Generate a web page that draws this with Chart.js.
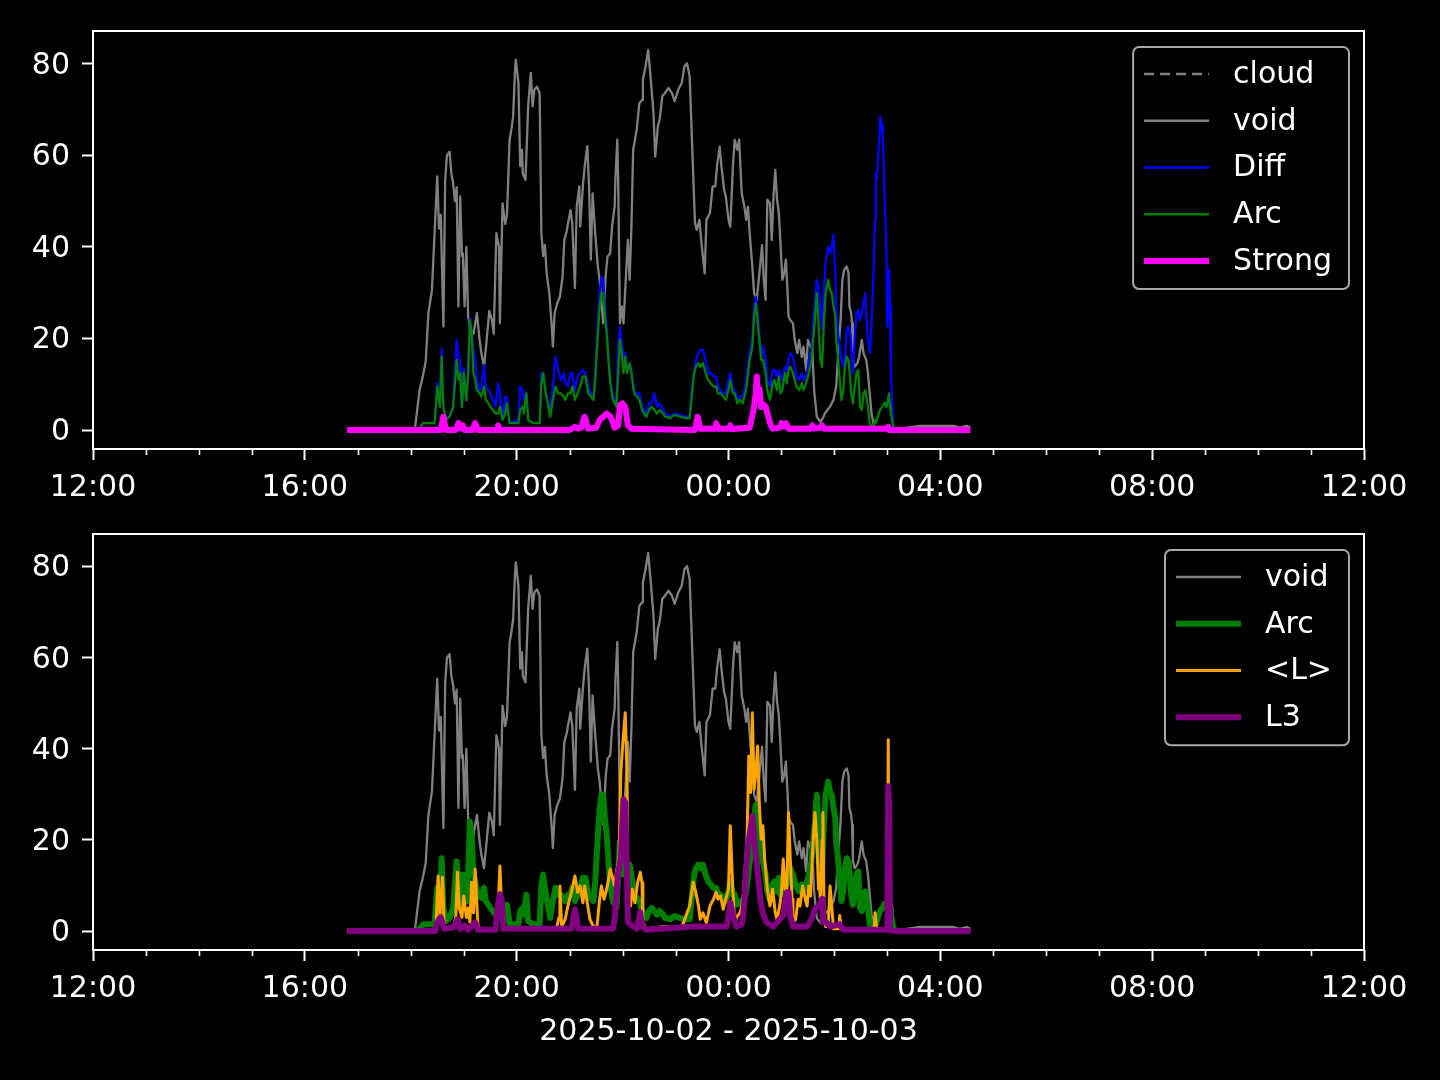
<!DOCTYPE html>
<html>
<head>
<meta charset="utf-8">
<title>void / Diff / Arc / Strong</title>
<script src="https://cdn.jsdelivr.net/npm/chart.js@4.4.1/dist/chart.umd.min.js"></script>
<style>
  html, body { margin:0; padding:0; background:#000; }
  #page { position:relative; width:1440px; height:1080px; background:#000; overflow:hidden; }
  #top { position:absolute; left:0; top:0; }
  #bottom { position:absolute; left:0; top:500px; }
</style>
</head>
<body>
<div id="page">
  <canvas id="top" width="1440" height="500"></canvas>
  <canvas id="bottom" width="1440" height="580"></canvas>
</div>
<script>
// ---------------- data (clock times, 2025-10-02 12:00 -> 2025-10-03 12:00) ----------------
const xTickLabels = ['12:00', '16:00', '20:00', '00:00', '04:00', '08:00', '12:00'];
const yTicks = [0, 20, 40, 60, 80];
const xLabel = '2025-10-02 - 2025-10-03';

const cloudTimes = [];
const cloudValues = [];

const voidTimes = [
  '16:48','18:04','18:05','18:10','18:14','18:17','18:20','18:24','18:27','18:30',
  '18:32','18:34','18:37','18:39','18:41','18:44','18:46','18:48','18:50','18:52',
  '18:54','18:56','18:58','18:59','19:01','19:03','19:05','19:08','19:11','19:15',
  '19:18','19:20','19:23','19:26','19:29','19:32','19:34','19:37','19:40','19:41',
  '19:44','19:47','19:49','19:52','19:54','19:56','19:58','19:59','20:02','20:04',
  '20:06','20:07','20:10','20:13','20:16','20:18','20:20','20:23','20:26','20:28',
  '20:30','20:32','20:34','20:37','20:40','20:41','20:43','20:46','20:49','20:52',
  '20:54','20:57','20:58','21:01','21:03','21:06','21:08','21:11','21:12','21:15',
  '21:17','21:20','21:22','21:24','21:26','21:29','21:32','21:34','21:38','21:41',
  '21:43','21:46','21:48','21:51','21:52','21:54','21:55','21:57','21:59','22:01',
  '22:04','22:06','22:08','22:10','22:12','22:14','22:16','22:19','22:22','22:23',
  '22:26','22:29','22:32','22:35','22:37','22:40','22:42','22:45','22:48','22:52',
  '22:56','22:59','23:03','23:07','23:10','23:13','23:16','23:19','23:22','23:24',
  '23:27','23:29','23:33','23:35','23:39','23:42','23:45','23:47','23:50','23:52',
  '23:55','23:57','00:00','00:02','00:05','00:07','00:10','00:12','00:15','00:18',
  '00:20','00:22','00:24','00:27','00:29','00:32','00:35','00:38','00:40','00:42',
  '00:44','00:47','00:49','00:51','00:53','00:55','00:57','00:59','01:01','01:03',
  '01:05','01:07','01:08','01:10','01:13','01:15','01:18','01:20','01:23','01:25',
  '01:28','01:30','01:33','01:35','01:37','01:40','01:44','01:47','01:49','01:55',
  '01:59','02:02','02:04','02:07','02:09','02:11','02:14','02:16','02:17','02:19',
  '02:20','02:21','02:23','02:26','02:28','02:31','02:33','02:36','02:38','02:40',
  '02:42','02:45','02:52','03:18','03:37','04:15','04:22','04:30','04:34'
];
const voidValues = [
  0, 0, 0.7, 8.7, 12, 15, 25.5, 30.6, 43, 55.4,
  44, 47, 22.6, 54.6, 60, 60.8, 56, 54, 50, 53,
  27, 51, 38, 38.6, 27, 40, 24.8, 22, 21, 25.5,
  19.7, 16.8, 13.8, 19.7, 26, 24, 21, 43, 40, 23.3,
  49.5, 45, 47, 63.4, 65.6, 68.5, 78, 80.9, 75.8, 57.6,
  61.2, 56, 54.6, 70.7, 78, 70.7, 74.3, 75, 73.6, 43,
  38, 40.4, 34.2, 29.9, 21.9, 18.2, 25.5, 27.7, 29.1, 33.5,
  41.5, 43.7, 45, 48, 45, 31, 48.8, 53.2, 44.4, 53.2,
  57.6, 62, 53.2, 37.2, 51.7, 43, 35.7, 32.8, 23.3, 34.2,
  37.9, 38.6, 44.4, 48.8, 55.4, 63.4, 54.6, 23.3, 27, 23.3,
  34.2, 41.5, 32.8, 44.4, 61.2, 63.4, 65.6, 71.4, 72.1, 76.5,
  79.4, 83, 76.5, 69.2, 59.7, 66.4, 67.8, 72.9, 73.6, 74.7,
  73.6, 71.8, 74.3, 75.8, 79.4, 80.1, 77.2, 61.2, 45.2, 43.7,
  45.9, 41.5, 34.2, 45.9, 47.4, 53.2, 53.2, 57.6, 61.9, 57.6,
  52.5, 51, 45.9, 44.4, 57.6, 63.4, 61.2, 63.4, 51.7, 48.8,
  45.9, 48.8, 43, 35.7, 29.9, 28.4, 34.2, 40.4, 32.8, 28.4,
  50.3, 49.5, 41.5, 51, 56.8, 50.3, 47.4, 40.4, 32.8, 34.2,
  37.2, 29.9, 24.8, 24, 23.3, 19.7, 16.8, 19.7, 16, 18.2,
  13.1, 19.7, 18.2, 17.5, 8.7, 2.9, 1.8, 2.6, 3.6, 5.1,
  6.6, 9.5, 16, 24, 32.8, 35, 35.7, 34.2, 27, 25.5,
  23.3, 15.3, 13.8, 14.6, 16, 19.7, 16.8, 15.3, 12.4, 8,
  3.6, 0.7, 0.4, 0.4, 0.9, 0.9, 0.5, 0.9, 0.5
];

// Arc and Diff share the same sample times
const arcTimes = [
  '16:48','18:05','18:10','18:14','18:27','18:30','18:33','18:35','18:37','18:40',
  '18:44','18:48','18:52','18:54','18:56','18:58','19:00','19:03','19:05','19:07',
  '19:09','19:11','19:13','19:15','19:18','19:20','19:23','19:25','19:28','19:30',
  '19:33','19:36','19:39','19:41','19:44','19:47','19:49','19:52','20:02','20:04',
  '20:07','20:08','20:11','20:13','20:19','20:26','20:28','20:30','20:33','20:36',
  '20:38','20:41','20:44','20:47','20:50','20:53','20:55','20:58','21:01','21:03',
  '21:06','21:09','21:12','21:15','21:18','21:21','21:24','21:27','21:29','21:32',
  '21:34','21:36','21:38','21:40','21:42','21:44','21:46','21:49','21:53','21:55',
  '21:57','21:59','22:01','22:03','22:05','22:08','22:10','22:13','22:16','22:19',
  '22:22','22:24','22:27','22:30','22:33','22:36','22:39','22:42','22:46','22:48',
  '22:54','22:59','23:05','23:11','23:16','23:18','23:21','23:23','23:26','23:28',
  '23:31','23:34','23:37','23:40','23:43','23:46','23:48','23:51','23:54','23:57',
  '00:00','00:02','00:05','00:07','00:10','00:13','00:16','00:19','00:21','00:24',
  '00:27','00:29','00:31','00:33','00:35','00:37','00:39','00:42','00:44','00:47',
  '00:50','00:52','00:55','00:57','00:59','01:01','01:04','01:06','01:08','01:10',
  '01:13','01:15','01:17','01:20','01:23','01:25','01:29','01:31','01:34','01:37',
  '01:40','01:42','01:44','01:46','01:48','01:50','01:53','01:55','01:57','01:59',
  '02:01','02:02','02:04','02:06','02:08','02:10','02:12','02:14','02:16','02:18',
  '02:19','02:21','02:23','02:25','02:27','02:29','02:31','02:33','02:35','02:36',
  '02:38','02:40','02:42','02:44','02:46','02:47','02:48','02:51','02:52','02:54',
  '02:55','02:57','02:59','03:00','03:02','03:03','03:04','03:06','03:07','03:10',
  '04:34'
];
const arcValues = [
  0, 0, 0.5, 1.5, 1.5, 9.5, 5, 16, 5, 2.2,
  2.9, 5, 15.3, 11, 12.4, 5, 12.4, 6.5, 12.4, 24,
  21, 12.4, 11, 8.7, 8, 7.3, 9.5, 6.6, 5.8, 5.1,
  4.4, 3.6, 3.6, 5.1, 2.2, 3.6, 5.8, 1.5, 1.5, 4.4,
  5.1, 3.6, 8, 2.2, 1.5, 1.5, 10.2, 12.4, 8, 5,
  2.9, 6.6, 9.5, 8, 8, 7.3, 6.6, 8, 8, 9.5,
  6.6, 8, 9.5, 11.7, 11.7, 8, 7.3, 6.6, 10.9, 21.1,
  26.9, 29.9, 29.9, 24.8, 21.1, 15.3, 10.2, 6.6, 5.1, 12.4,
  19.7, 16.8, 12.4, 16, 12.4, 14.6, 12.4, 8, 7.3, 6.6,
  4.4, 3.6, 2.9, 4.4, 5.1, 4.4, 3.6, 4.4, 3.6, 2.9,
  2.6, 3.3, 2.9, 2.6, 2.6, 6.6, 12.4, 13.8, 14.6, 13.8,
  14.6, 12.4, 10.9, 10.2, 9.5, 9.5, 8, 8, 7.3, 6.6,
  8.7, 10.9, 8, 8, 5.8, 6.6, 5.8, 8, 10.2, 15.3,
  18.2, 24.8, 27.7, 23.3, 19.7, 15.3, 15.3, 12.4, 8.7, 6.6,
  10.2, 10.9, 8.7, 11.7, 8, 8.7, 12.4, 10.2, 13.1, 13.8,
  12.4, 10.9, 9.5, 8.7, 10.2, 8.7, 10.9, 12.4, 15.3, 21.9,
  29.9, 23.3, 15.3, 13.8, 23.3, 29.9, 32.8, 30.6, 29.9, 27,
  24.8, 19.7, 16, 10.9, 6.6, 8.7, 13.8, 16, 15.3, 10.9,
  8, 5.8, 9.5, 12.4, 13.1, 5.1, 4.4, 8, 8.7, 7.3,
  5.1, 1.5, 0.7, 0.7, 2.2, 1.5, 2.2, 4, 4.5, 5,
  5, 6, 5, 6, 8, 5, 3.6, 1.5, 0.5, 0,
  0
];
const diffValues = [
  0, 0, 0.5, 1.5, 1.5, 10.2, 5, 17.8, 5, 2.2,
  2.9, 5, 19.7, 16, 15.3, 5, 13.5, 6.5, 12.4, 24.4,
  21, 17.5, 15.3, 10.9, 8.7, 9.5, 14.2, 9.5, 8.7, 8,
  6.6, 5.1, 10.2, 8, 2.2, 7.3, 7, 1.5, 2.2, 9.5,
  8.7, 6.6, 8, 2.2, 1.5, 1.5, 12.4, 12.4, 8, 5.8,
  3.6, 9.5, 16, 13.1, 10.9, 12.4, 10.2, 9.5, 12.4, 12.4,
  8.7, 11.7, 12.4, 13.1, 12.4, 9.5, 8, 6.6, 12.4, 23.3,
  29.9, 33.5, 32.8, 27, 22.6, 16, 10.9, 7.3, 5.8, 18.2,
  22.6, 18.9, 16, 16.8, 13.8, 14.6, 13.1, 8.7, 8, 8,
  5.1, 4.4, 3.6, 5.8, 5.8, 8, 5.1, 5.8, 4.4, 3.6,
  2.9, 3.6, 3.3, 2.9, 2.9, 8, 12.4, 15.3, 16.8, 17.5,
  17.5, 15.3, 12.4, 12.4, 11.7, 11.7, 9.5, 8.7, 8, 8,
  10.9, 12.4, 8.7, 8.7, 6.6, 7.3, 7.3, 9.5, 12.4, 16.8,
  19.7, 27, 29.1, 25.5, 21.1, 16, 18.2, 15.3, 10.9, 9.5,
  13.1, 13.1, 11.7, 13.1, 11.7, 10.9, 13.8, 13.1, 15.3, 16.8,
  16, 13.8, 11.7, 10.9, 12.4, 10.9, 12.4, 15.3, 17.5, 25.5,
  32.8, 31.4, 26.9, 21.9, 30.6, 36.4, 40, 38.6, 40, 42.6,
  34.2, 27, 21.1, 18.2, 15.3, 13.8, 16, 21.9, 22.6, 21.1,
  18.2, 12.4, 19.7, 25.5, 26.2, 24, 25.5, 27.7, 29.9, 25.5,
  19.7, 16.8, 22.6, 32.8, 45.9, 56, 54.6, 64, 68.5, 66.4,
  63.4, 50, 38.6, 22.6, 35, 27, 12.4, 2.9, 0.5, 0,
  0
];

const strongTimes = [
  '16:48','18:34','18:37','18:40','18:51','18:54','18:57','18:59','19:01','19:10',
  '19:13','19:16','19:38','19:39','19:41','21:00','21:06','21:10','21:13','21:17',
  '21:21','21:30','21:34','21:38','21:42','21:46','21:48','21:51','21:55','21:57',
  '22:00','22:03','22:06','22:10','23:22','23:25','23:28','23:45','23:46','23:48',
  '00:01','00:02','00:04','00:24','00:28','00:31','00:32','00:33','00:35','00:37',
  '00:40','00:42','00:45','00:48','00:50','00:58','01:00','01:03','01:05','01:08',
  '01:33','01:35','01:37','01:44','01:46','01:48','03:00','03:01','03:02','04:34'
];
const strongValues = [
  0, 0, 2.9, 0, 0, 1.5, 0.3, 1, 0, 0,
  1.5, 0, 0, 1, 0, 0, 0.7, 0.3, 0.5, 2.9,
  0.3, 0.5, 2.2, 2.9, 3.6, 3, 2.2, 0.5, 1, 5.5,
  5.8, 5, 1, 0.3, 0, 2.9, 0.3, 0.3, 1.5, 0.3,
  0.3, 1, 0.2, 0.5, 4, 8, 11.7, 8, 9, 5,
  5.5, 5.1, 3, 1, 0.3, 0.5, 1.5, 0.8, 1.5, 0.3,
  0.3, 1, 0.3, 0.5, 1, 0.3, 0.3, 0.7, 0, 0
];

const lAvgTimes = [
  '16:48','18:28','18:29','18:31','18:33','18:36','18:38','18:41','18:48','18:51',
  '18:53','18:55','18:58','19:00','19:03','19:05','19:07','19:09','19:11','19:13',
  '19:16','19:18','19:37','19:39','19:41','19:43','19:45','20:45','20:48','20:49',
  '20:51','20:55','20:58','21:02','21:06','21:09','21:12','21:15','21:17','21:20',
  '21:23','21:27','21:31','21:34','21:36','21:39','21:42','21:46','21:48','21:51',
  '21:53','21:56','21:58','22:00','22:03','22:05','22:06','22:09','22:11','22:14',
  '22:17','22:20','22:22','22:23','22:27','22:48','23:05','23:09','23:13','23:16',
  '23:20','23:23','23:26','23:28','23:31','23:35','23:39','23:43','23:46','23:48',
  '23:51','23:54','23:57','00:00','00:02','00:05','00:07','00:10','00:13','00:15',
  '00:17','00:19','00:21','00:23','00:25','00:27','00:29','00:31','00:33','00:35',
  '00:37','00:39','00:41','00:44','00:47','00:50','00:53','00:55','00:58','01:00',
  '01:02','01:04','01:06','01:08','01:10','01:12','01:13','01:16','01:19','01:21',
  '01:24','01:27','01:29','01:31','01:33','01:36','01:38','01:40','01:42','01:43',
  '01:44','01:46','01:47','01:48','01:49','01:50','01:53','01:55','01:57','01:59',
  '02:05','02:06','02:08','02:45','02:46','02:48','03:00','03:01','03:02','03:05',
  '04:34'
];
const lAvgValues = [
  0, 0, 3, 12.1, 3, 11.8, 1, 0.5, 0.5, 3,
  12.9, 5, 3, 7.7, 3, 5, 2, 10.7, 4, 13.6,
  1.5, 0.5, 0.5, 5, 14.3, 5, 0.5, 0.5, 3, 9.9,
  1, 2.6, 5.5, 8.5, 12.1, 8.5, 9.9, 6.2, 9.9, 6.2,
  2.6, 1, 1, 7, 9.9, 7, 9.2, 13.6, 12.1, 9.9,
  12.9, 15.8, 34.8, 40.6, 47.9, 34.8, 7, 5.5, 9.2, 6.2,
  10.6, 12.9, 10.6, 1.8, 0.5, 1, 0.5, 1.8, 4, 5.5,
  10.7, 8.5, 5.5, 2.6, 4, 1.8, 5.5, 7, 8.5, 7,
  7.7, 4.8, 7, 9.2, 23.1, 8.5, 1.8, 3.3, 4, 5.5,
  8.5, 14.3, 20.2, 38.4, 30.4, 47.9, 31.1, 34.8, 40.6, 27.5,
  20.2, 23.1, 15.8, 9.2, 5.5, 9.2, 4, 2.6, 5.5, 8.5,
  15.8, 9.2, 8.5, 26, 15.8, 7, 1.8, 2.6, 7, 5.5,
  9.9, 7, 5.5, 9.9, 7.7, 20.2, 26, 20.2, 9.2, 12,
  7, 20, 26, 8, 2, 1, 1, 9.9, 5.5, 0.5,
  0.5, 3.4, 0.5, 0.5, 4, 0.5, 0.5, 42, 0.5, 0,
  0
];

const l3Times = [
  '16:48','18:28','18:30','18:34','18:38','18:50','18:53','18:56','19:01','19:05',
  '19:13','19:16','19:36','19:39','19:41','19:43','19:45','21:02','21:06','21:10',
  '21:49','21:51','21:55','21:58','22:01','22:03','22:05','22:06','22:16','22:20',
  '22:22','22:27','23:20','23:31','23:58','00:00','00:02','00:05','00:09','00:15',
  '00:17','00:20','00:22','00:25','00:27','00:30','00:33','00:36','00:39','00:43',
  '00:51','00:58','01:02','01:06','01:08','01:10','01:13','01:29','01:34','01:38',
  '01:42','01:46','01:47','01:51','01:55','02:06','02:10','03:00','03:01','03:02',
  '03:03','03:06','04:34'
];
const l3Values = [
  0, 0, 2, 3, 0.5, 1, 2.6, 0.5, 1.2, 0.3,
  1.9, 0.3, 0.3, 6, 8.1, 7, 0.5, 0.5, 4.8, 0.5,
  0.5, 2.6, 12.9, 15.8, 28.9, 28.2, 12.9, 1.9, 0.5, 4.1,
  1, 0.3, 1, 1, 1, 3.3, 6.3, 3.3, 1, 1.5,
  4, 12.9, 18.7, 22.4, 25.3, 18.7, 12.9, 7, 4, 1.9,
  1, 2.6, 3.4, 8.5, 8.5, 3.4, 1, 1, 2.6, 4.8,
  5.5, 7, 1.9, 1.9, 1, 1.5, 0.3, 0.3, 31.8, 28,
  0.3, 0, 0
];

// ---------------- helpers ----------------
function toMinutes(t) {            // minutes since 2025-10-02 12:00
  const [h, m] = t.split(':').map(Number);
  let v = (h - 12) * 60 + m;
  if (v < 0) v += 1440;
  return v;
}
function points(times, values) {
  if (times.length !== values.length) console.warn('length mismatch', times.length, values.length);
  return times.map((t, i) => ({ x: toMinutes(t), y: values[i] }));
}
function yRange(list) {
  let lo = Infinity, hi = -Infinity;
  list.forEach(a => a.forEach(v => { lo = Math.min(lo, v); hi = Math.max(hi, v); }));
  const pad = (hi - lo) * 0.05;
  return [lo - pad, hi + pad];
}

const FONT = 'DejaVu Sans';
Chart.defaults.font.family = FONT;
Chart.defaults.font.size = 30;
Chart.defaults.color = '#ffffff';

const decor = {
  id: 'decor',
  afterDatasetsDraw(chart) {
    const { ctx, chartArea: a, scales: { x } } = chart;
    ctx.save();
    // frame
    ctx.strokeStyle = '#ffffff';
    ctx.lineWidth = 2;
    ctx.setLineDash([]);
    ctx.strokeRect(a.left, a.top, a.right - a.left, a.bottom - a.top);
    // minor hourly ticks
    ctx.lineWidth = 1.6;
    x.ticks.forEach(t => {
      if (t.value % 240 !== 0) {
        const px = Math.round(x.getPixelForValue(t.value)) + 0.5;
        ctx.beginPath(); ctx.moveTo(px, a.bottom); ctx.lineTo(px, a.bottom + 6); ctx.stroke();
      }
    });
    // legend
    const ds = chart.data.datasets;
    ctx.font = '30px "' + FONT + '"';
    const maxW = Math.max(...ds.map(d => ctx.measureText(d.label).width));
    const w = 11 + 65 + 24 + maxW + 17;
    const rowH = 46.75;
    const h = 27 + (ds.length - 1) * rowH + 28;
    const right = a.right - 15, left = right - w, top = a.top + 16;
    ctx.beginPath();
    ctx.roundRect(left, top, w, h, 6);
    ctx.fillStyle = 'rgba(0,0,0,0.8)';
    ctx.fill();
    ctx.lineWidth = 2;
    ctx.strokeStyle = '#a8a8a8';
    ctx.stroke();
    ds.forEach((d, i) => {
      const cy = top + 27 + i * rowH;
      ctx.beginPath();
      ctx.setLineDash(d.borderDash || []);
      ctx.lineCap = 'butt';
      ctx.strokeStyle = d.borderColor;
      ctx.lineWidth = d.borderWidth;
      ctx.moveTo(left + 11, cy); ctx.lineTo(left + 76, cy);
      ctx.stroke();
      ctx.setLineDash([]);
      ctx.fillStyle = '#ffffff';
      ctx.textBaseline = 'middle';
      ctx.textAlign = 'left';
      ctx.fillText(d.label, left + 100, cy + 1);
    });
    ctx.restore();
  }
};

function line(label, times, values, color, width, dash) {
  return {
    label, data: points(times, values), borderColor: color, backgroundColor: color,
    borderWidth: width, borderDash: dash || [], pointRadius: 0, pointHoverRadius: 0,
    tension: 0, fill: false, borderJoinStyle: 'round', spanGaps: true
  };
}

function makeChart(canvas, datasets, padTop, axisHeight, withTitle, range) {
  datasets.forEach((d, i) => { d.order = datasets.length - i; });
  return new Chart(canvas, {
    type: 'line',
    data: { datasets },
    plugins: [decor],
    options: {
      responsive: false, animation: false, devicePixelRatio: 1,
      layout: { padding: { top: padTop, right: 76, left: 0, bottom: 0 } },
      plugins: { legend: { display: false }, tooltip: { enabled: false } },
      events: [],
      scales: {
        x: {
          type: 'linear', min: 0, max: 1440,
          afterBuildTicks: s => { const t = []; for (let m = 0; m <= 1440; m += 60) t.push({ value: m }); s.ticks = t; },
          afterFit: s => { s.height = axisHeight; s.paddingLeft = 0; s.paddingRight = 0; },
          ticks: {
            autoSkip: false, maxRotation: 0, minRotation: 0, padding: 10, color: '#ffffff',
            font: { size: 30, family: FONT },
            callback: v => (v % 240 === 0 ? xTickLabels[v / 240] : '')
          },
          grid: {
            drawOnChartArea: false, drawTicks: true, tickLength: 11, tickWidth: 2,
            tickColor: c => (c.tick && c.tick.value % 240 === 0) ? '#ffffff' : 'rgba(0,0,0,0)'
          },
          border: { display: false },
          title: { display: withTitle, text: xLabel, color: '#ffffff', font: { size: 30, family: FONT }, padding: { top: 0, bottom: 30 } }
        },
        y: {
          type: 'linear', min: range[0], max: range[1],
          afterBuildTicks: s => { s.ticks = yTicks.map(v => ({ value: v })); },
          afterFit: s => { s.width = 93; s.paddingTop = 0; s.paddingBottom = 0; },
          ticks: { padding: 12, labelOffset: 2, color: '#ffffff', font: { size: 30, family: FONT }, callback: v => String(v) },
          grid: { drawOnChartArea: false, drawTicks: true, tickLength: 11, tickWidth: 2, tickColor: '#ffffff' },
          border: { display: false }
        }
      }
    }
  });
}

const topRange = yRange([cloudValues, voidValues, diffValues, arcValues, strongValues]);
const bottomRange = yRange([voidValues, arcValues, lAvgValues, l3Values]);

makeChart(document.getElementById('top'), [
  line('cloud', cloudTimes, cloudValues, '#808080', 2.3, [10, 6]),
  line('void', voidTimes, voidValues, '#808080', 2.3),
  line('Diff', arcTimes, diffValues, '#0000ff', 2.3),
  line('Arc', arcTimes, arcValues, '#008000', 2.3),
  line('Strong', strongTimes, strongValues, '#ff00ff', 6)
], 31, 51, false, topRange);

makeChart(document.getElementById('bottom'), [
  line('void', voidTimes, voidValues, '#808080', 2.3),
  line('Arc', arcTimes, arcValues, '#008000', 6),
  line('<L>', lAvgTimes, lAvgValues, '#ffa500', 3),
  line('L3', l3Times, l3Values, '#800080', 6)
], 34, 130, true, bottomRange);
</script>
</body>
</html>
